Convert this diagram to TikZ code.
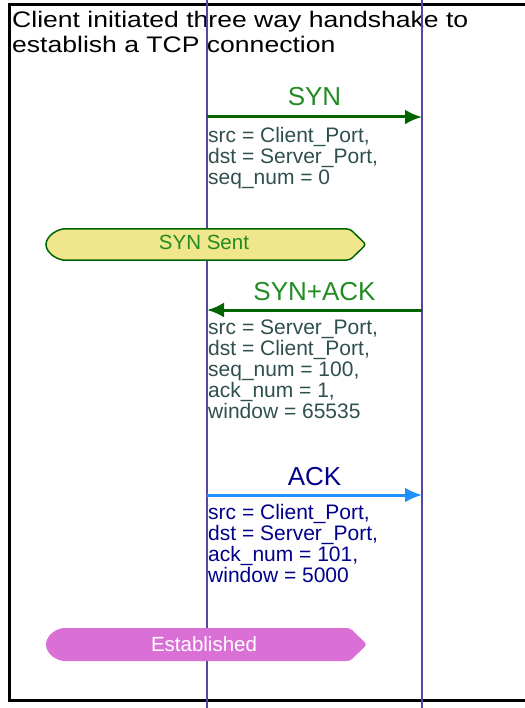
\documentclass[tikz,border=0pt]{standalone}
\usepackage{fontspec}
\setmainfont{Liberation Sans}
\newfontfamily\titlefont[FakeStretch=1.18]{Liberation Sans}
\usepackage{tikz}
\usetikzlibrary{arrows.meta}
\usepackage{color}
\definecolor{lifeline}{RGB}{85,72,160}
\definecolor{synline}{RGB}{0,100,0}
\definecolor{synlabel}{RGB}{34,139,34}
\definecolor{slate}{RGB}{47,79,79}
\definecolor{ackline}{RGB}{30,144,255}
\definecolor{acklabel}{RGB}{0,0,139}
\definecolor{khaki}{RGB}{240,230,140}
\definecolor{orchid}{RGB}{218,112,214}

\begin{document}
\begin{tikzpicture}[x=1pt,y=-1pt]
    \path[use as bounding box] (0,0) rectangle (524,708);

    \tikzset{ msg/.style   ={-{Latex[length=17pt,width=15pt]}, line width=3pt} }
    \tikzset{ tag/.style   ={anchor=base, inner sep=0pt, font=\fontsize{26}{26}\selectfont} }
    \tikzset{ params/.style={anchor=north west, align=left, inner sep=0pt, font=\fontsize{21}{21}\selectfont} }
    \tikzset{ state/.style ={anchor=base, inner sep=0pt, font=\fontsize{20.5}{21}\selectfont} }

    % frame and title
    \draw[line width=3pt] (9,5) rectangle (526,700);
    \node[anchor=north west, align=left, inner sep=0pt, font=\titlefont\fontsize{22.5}{25}\selectfont] (title) at (12,11.5)
        {Client initiated three way handshake to\\establish a TCP connection};

    % lifelines
    \coordinate (client top) at (207,0);
    \coordinate (client bot) at (207,708);
    \coordinate (server top) at (422,0);
    \coordinate (server bot) at (422,708);
    \draw[lifeline, line width=1.8pt] (client top) -- (client bot);
    \draw[lifeline, line width=1.8pt] (server top) -- (server bot);

    % SYN
    \coordinate (syn from) at (207,117);
    \coordinate (syn to)   at (422,117);
    \draw[msg, synline] (syn from) -- (syn to);
    \node[tag, text=synlabel] (syn) at (314.5,106) {SYN};
    \node[params, text=slate] (synparams) at (208,127)
        {src = Client\_Port,\\dst = Server\_Port,\\seq\_num = 0};

    % SYN Sent
    \fill[khaki, draw=synline, line width=1.5pt, rounded corners=3pt]
        (63,229) -- (350,229) -- (366,244.5) -- (350,260) [sharp corners] -- (63,260)
        .. controls (52,258) and (46,250) .. (46,244.5) .. controls (46,239) and (52,231) .. (63,229) -- cycle;
    \node[state, text=synlabel] (synsent) at (204,250) {SYN Sent};

    % SYN+ACK
    \coordinate (synack from) at (422,310);
    \coordinate (synack to)   at (207,310);
    \draw[msg, synline] (synack from) -- (synack to);
    \node[tag, text=synlabel] (synack) at (314.5,300) {SYN+ACK};
    \node[params, text=slate] (synackparams) at (208,320)
        {src = Server\_Port,\\dst = Client\_Port,\\seq\_num = 100,\\ack\_num = 1,\\window = 65535};

    % ACK
    \coordinate (ack from) at (207,495);
    \coordinate (ack to)   at (422,495);
    \draw[msg, ackline] (ack from) -- (ack to);
    \node[tag, text=acklabel] (ack) at (314.5,485) {ACK};
    \node[params, text=acklabel] (ackparams) at (208,504)
        {src = Client\_Port,\\dst = Server\_Port,\\ack\_num = 101,\\window = 5000};

    % Established
    \fill[orchid, rounded corners=3pt]
        (63,628) -- (350,628) -- (367,644.5) -- (350,661) [sharp corners] -- (63,661)
        .. controls (52,659) and (46,651) .. (46,644.5) .. controls (46,638) and (52,630) .. (63,628) -- cycle;
    \node[state, text=white] (established) at (204,651) {Established};

\end{tikzpicture}
\end{document}
